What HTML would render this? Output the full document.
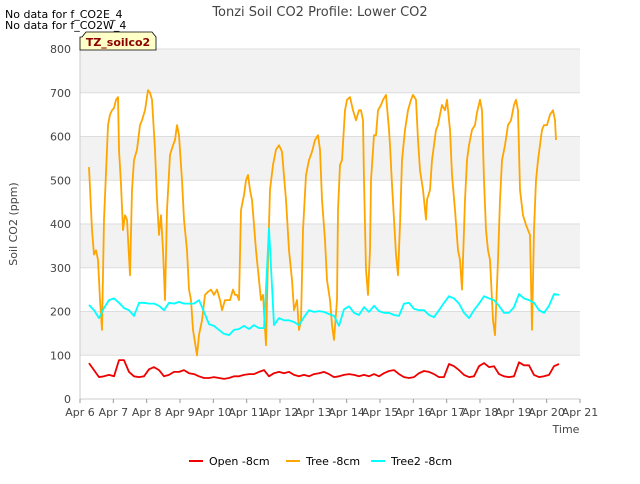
<!DOCTYPE html>
<html><head><meta charset="utf-8"><style>
body{margin:0;background:#fff;font-family:"DejaVu Sans","Liberation Sans",sans-serif;}
svg text{font-family:"DejaVu Sans","Liberation Sans",sans-serif;}
</style></head><body>
<svg id="chart" width="640" height="480" xmlns="http://www.w3.org/2000/svg">
<rect width="640" height="480" fill="#fff"/>
<g id="bands"></g><g id="grid"></g>
<text x="320" y="16" text-anchor="middle" font-size="13" fill="#444">Tonzi Soil CO2 Profile: Lower CO2</text>
<text x="5" y="18" font-size="11" fill="#000">No data for f_CO2E_4</text>
<text x="5" y="29" font-size="11" fill="#000">No data for f_CO2W_4</text>
<text transform="translate(17,224) rotate(-90)" text-anchor="middle" font-size="11" fill="#444">Soil CO2 (ppm)</text>
<text x="566" y="433" text-anchor="middle" font-size="11" fill="#444">Time</text>
<g id="yticks"></g><g id="xticks"></g>
<g id="series"></g>
<g>
<path d="M82 37 L86 32 L152 32 L156 37 L156 50 L80 50 L80 37 Z" fill="#ffffc8" stroke="#000" stroke-width="0.8"/>
<text x="118" y="46" text-anchor="middle" font-size="11" font-weight="bold" fill="#8b0000">TZ_soilco2</text>
</g>
<g>
<g><line x1="189" y1="461" x2="203" y2="461" stroke="#e00" stroke-width="2"/><text x="209" y="465" font-size="11" fill="#000">Open -8cm</text></g>
<g><line x1="286" y1="461" x2="300" y2="461" stroke="#ffa500" stroke-width="2"/><text x="306" y="465" font-size="11" fill="#000">Tree -8cm</text></g>
<g><line x1="371" y1="461" x2="385" y2="461" stroke="#0ff" stroke-width="2"/><text x="391" y="465" font-size="11" fill="#000">Tree2 -8cm</text></g>
</g>
</svg>
<script>
const yTicks=[0,100,200,300,400,500,600,700,800];
const xTickLabels=["Apr 6","Apr 7","Apr 8","Apr 9","Apr 10","Apr 11","Apr 12","Apr 13","Apr 14","Apr 15","Apr 16","Apr 17","Apr 18","Apr 19","Apr 20","Apr 21"];
const treeDays=[0.27,0.36,0.42,0.48,0.54,0.6,0.66,0.72,0.81,0.84,0.9,0.96,1.02,1.08,1.14,1.17,1.23,1.29,1.35,1.41,1.5,1.56,1.62,1.71,1.8,1.86,1.95,2.04,2.1,2.16,2.25,2.31,2.37,2.43,2.49,2.55,2.61,2.7,2.79,2.85,2.91,2.97,3.06,3.12,3.21,3.27,3.33,3.39,3.51,3.57,3.66,3.75,3.84,3.93,4.02,4.11,4.2,4.26,4.35,4.44,4.5,4.59,4.65,4.71,4.77,4.83,4.92,4.98,5.04,5.1,5.16,5.22,5.28,5.37,5.43,5.49,5.58,5.64,5.7,5.79,5.88,5.97,6.06,6.18,6.27,6.36,6.42,6.51,6.57,6.63,6.69,6.78,6.87,6.96,7.05,7.14,7.2,7.26,7.35,7.41,7.5,7.56,7.62,7.71,7.74,7.8,7.86,7.95,8.01,8.1,8.19,8.28,8.37,8.43,8.49,8.52,8.58,8.64,8.7,8.73,8.82,8.88,8.94,9.03,9.09,9.18,9.27,9.3,9.36,9.42,9.48,9.54,9.6,9.66,9.75,9.84,9.93,9.99,10.08,10.14,10.2,10.29,10.38,10.41,10.5,10.56,10.62,10.68,10.74,10.8,10.86,10.95,11.01,11.1,11.16,11.25,11.34,11.4,11.46,11.49,11.55,11.61,11.67,11.76,11.85,11.91,12.0,12.06,12.12,12.18,12.24,12.3,12.36,12.39,12.45,12.54,12.6,12.66,12.75,12.84,12.93,13.02,13.08,13.14,13.2,13.29,13.38,13.44,13.5,13.56,13.62,13.68,13.74,13.86,13.92,14.01,14.1,14.19,14.25,14.28];
const treeVals=[530,386,330,340,318,226,158,410,570,626,650,660,665,684,690,570,490,386,420,410,283,478,546,570,626,637,660,706,700,684,570,455,375,420,340,226,432,558,580,592,626,603,500,410,340,250,226,158,100,146,180,238,245,250,238,250,226,203,226,226,226,250,238,238,226,432,466,500,512,478,455,398,340,272,226,238,123,318,478,535,570,580,565,455,340,272,203,226,158,180,386,512,546,565,592,603,570,455,363,272,226,169,135,226,432,535,546,660,684,690,660,637,660,660,637,500,295,238,340,500,603,603,660,672,684,695,615,580,490,410,330,283,398,546,615,660,684,695,684,592,523,478,410,455,478,546,580,615,626,650,672,660,684,615,512,432,340,318,250,318,455,546,580,615,626,655,684,660,500,386,340,318,226,180,146,318,455,546,580,626,637,672,684,660,478,420,398,386,375,158,386,500,546,615,626,626,650,660,637,592];
const gridStart=0.27, gridStep=0.15;
const openVals=[82,66,50,52,55,52,89,89,62,52,50,52,68,73,66,52,55,62,62,66,59,57,52,48,48,50,48,46,48,52,52,55,57,57,62,66,52,59,62,59,62,55,52,55,52,57,59,62,57,50,52,55,57,55,52,55,52,57,52,59,64,66,57,50,48,50,59,64,62,57,50,50,80,75,66,55,50,52,75,82,73,75,57,52,50,52,84,77,77,55,50,52,55,75,80];
const tree2Vals=[215,203,185,208,226,230,220,208,203,190,220,220,218,218,213,203,220,218,222,218,218,218,226,199,171,167,158,149,146,158,160,167,160,169,162,162,390,169,185,180,180,176,169,187,203,199,201,199,194,190,167,205,212,197,192,210,199,213,201,197,197,192,190,218,220,206,203,203,192,187,203,220,235,230,218,197,185,203,218,235,230,226,213,197,197,210,240,230,226,220,203,197,213,240,238];
const X0=80,X1=580,Y0=399,Y1=49;
const xs=d=>X0+d*(X1-X0)/15;
const ys=v=>Y0-v*(Y0-Y1)/800;
const NS="http://www.w3.org/2000/svg";
function mk(tag,parent,attrs){const e=document.createElementNS(NS,tag);for(const k in attrs)e.setAttribute(k,attrs[k]);parent.appendChild(e);return e;}
const bands=document.getElementById('bands'),grid=document.getElementById('grid');
const bg=mk('rect',bands,{x:X0,y:Y1,width:X1-X0,height:Y0-Y1,fill:'#fff'});


for(let i=0;i<yTicks.length-1;i++){
  if(i%2===1){const b=mk('rect',bands,{x:X0,y:ys(yTicks[i+1]),width:X1-X0,height:ys(yTicks[i])-ys(yTicks[i+1]),fill:'#f2f2f2'});
  
  }
}
const yt=document.getElementById('yticks');
yTicks.forEach(v=>{
  const g=mk('line',grid,{x1:X0,x2:X1,y1:ys(v),y2:ys(v),stroke:'#ddd','stroke-width':1});
  
  
  const t=mk('text',yt,{x:X0-9,y:ys(v)+4,'text-anchor':'end','font-size':11,fill:'#444'});t.textContent=v;
  
  
});
const xt=document.getElementById('xticks');
mk('line',grid,{x1:X0,x2:X1,y1:Y0,y2:Y0,stroke:'#ccc'});
mk('line',grid,{x1:X0,x2:X0,y1:Y1,y2:Y0,stroke:'#ccc'});
xTickLabels.forEach((l,i)=>{
  mk('line',xt,{x1:xs(i),x2:xs(i),y1:Y0,y2:Y0+4,stroke:'#999'});
  const t=mk('text',xt,{x:xs(i),y:Y0+17,'text-anchor':'middle','font-size':11,fill:'#444'});t.textContent=l;
  
  
});
const ser=document.getElementById('series');
function line(days,vals,color,name){
  const d=vals.map((v,i)=>(i?'L':'M')+xs(days[i]).toFixed(1)+' '+ys(v).toFixed(1)).join(' ');
  const p=mk('path',ser,{d:d,fill:'none',stroke:color,'stroke-width':1.8,'stroke-linejoin':'round'});
  
  
}
const gridDays=openVals.map((_,i)=>gridStart+i*gridStep);
line(gridDays,openVals,'#e00','open-8cm-line');
line(treeDays,treeVals,'#ffa500','tree-8cm-line');
line(gridDays,tree2Vals,'#0ff','tree2-8cm-line');
</script>
</body></html>
